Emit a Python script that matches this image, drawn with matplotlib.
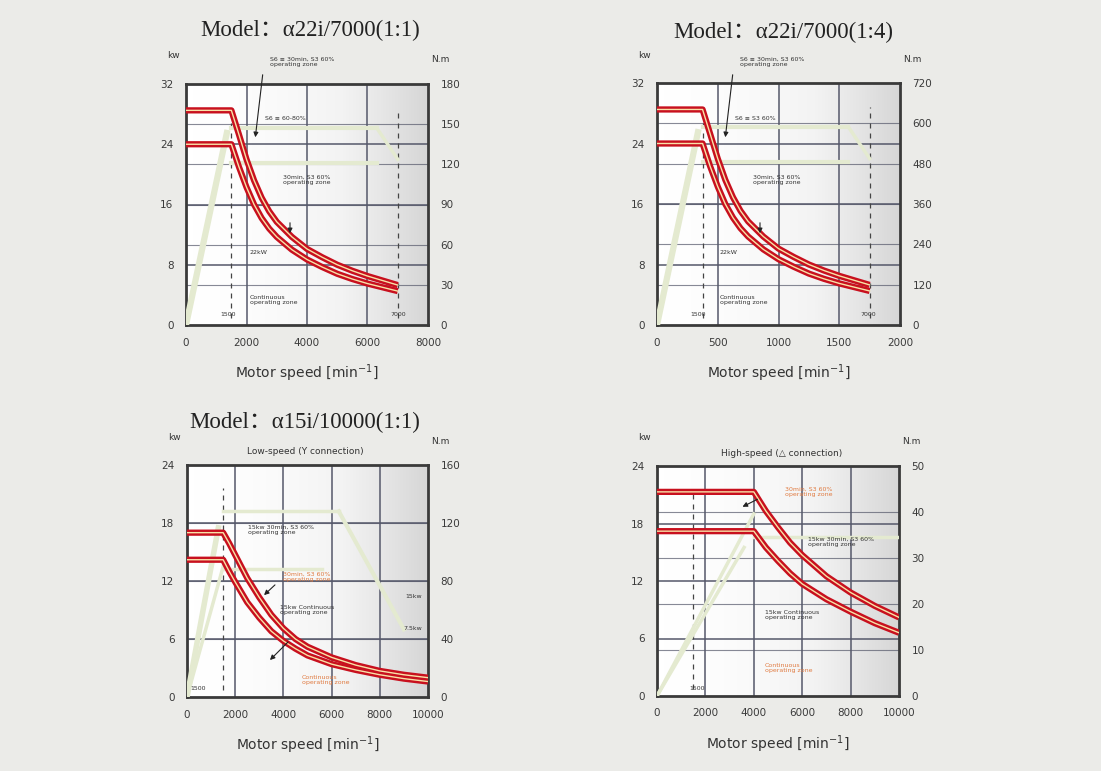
import numpy as np
import matplotlib
matplotlib.use("Agg")
from matplotlib import pyplot as plt
from matplotlib.colors import LinearSegmentedColormap

W, H = 1101, 771

# ---- data (speed in min^-1, output in kW) ----
# alpha22i/7000 (1:1)
m1_speed = [0, 1500, 1750, 2000, 2250, 2500, 2750, 3000, 3500, 4000, 4500, 5000, 5500, 6000, 6500, 7000]
m1_30min = [28.5, 28.5, 25.3, 22.0, 19.2, 16.9, 15.1, 13.7, 11.7, 10.1, 9.0, 8.0, 7.2, 6.5, 5.9, 5.3]
m1_cont = [24.0, 24.0, 21.0, 18.3, 16.0, 14.2, 12.8, 11.7, 10.0, 8.7, 7.7, 6.8, 6.1, 5.5, 5.0, 4.5]
# alpha22i/7000 (1:4) - spindle speed
m2_speed = [0, 375, 437, 500, 562, 625, 687, 750, 875, 1000, 1125, 1250, 1375, 1500, 1625, 1750]
m2_30min = [28.5, 28.5, 25.3, 22.0, 19.2, 16.9, 15.1, 13.7, 11.7, 10.1, 9.0, 8.0, 7.2, 6.5, 5.9, 5.3]
m2_cont = [24.0, 24.0, 21.0, 18.3, 16.0, 14.2, 12.8, 11.7, 10.0, 8.7, 7.7, 6.8, 6.1, 5.5, 5.0, 4.5]
# alpha15i/10000 low speed (Y)
m3_speed = [0, 1500, 1750, 2000, 2500, 3000, 3500, 4000, 4500, 5000, 6000, 7000, 8000, 9000, 10000]
m3_30min = [17.0, 17.0, 15.9, 14.7, 12.3, 10.3, 8.5, 7.1, 6.0, 5.2, 4.1, 3.3, 2.7, 2.3, 2.0]
m3_cont = [14.2, 14.2, 13.0, 11.9, 9.8, 8.2, 6.8, 5.8, 5.0, 4.3, 3.4, 2.8, 2.3, 1.9, 1.6]
# alpha15i/10000 high speed (delta)
m4_speed = [0, 4000, 4500, 5000, 5500, 6000, 7000, 8000, 9000, 10000]
m4_30min = [21.3, 21.3, 19.3, 17.6, 16.0, 14.7, 12.5, 10.8, 9.4, 8.2]
m4_cont = [17.2, 17.2, 15.5, 14.1, 12.8, 11.7, 10.1, 8.8, 7.6, 6.6]

panels = [
    dict(box=(186, 84, 428, 325), xmax=8000, xt=[0, 2000, 4000, 6000, 8000],
         kmax=32, kt=[0, 8, 16, 24, 32], nmax=180, nt=[0, 30, 60, 90, 120, 150, 180],
         vg=[2000, 4000, 6000], dash=[1500, 7000],
         sp=m1_speed, a=m1_30min, b=m1_cont),
    dict(box=(657, 83, 900, 325), xmax=2000, xt=[0, 500, 1000, 1500, 2000],
         kmax=32, kt=[0, 8, 16, 24, 32], nmax=720, nt=[0, 120, 240, 360, 480, 600, 720],
         vg=[500, 1000, 1500], dash=[375, 1750],
         sp=m2_speed, a=m2_30min, b=m2_cont),
    dict(box=(187, 465, 428, 697), xmax=10000, xt=[0, 2000, 4000, 6000, 8000, 10000],
         kmax=24, kt=[0, 6, 12, 18, 24], nmax=160, nt=[0, 40, 80, 120, 160],
         vg=[2000, 4000, 6000, 8000], dash=[1500],
         sp=m3_speed, a=m3_30min, b=m3_cont),
    dict(box=(657, 466, 899, 696), xmax=10000, xt=[0, 2000, 4000, 6000, 8000, 10000],
         kmax=24, kt=[0, 6, 12, 18, 24], nmax=50, nt=[0, 10, 20, 30, 40, 50],
         vg=[2000, 4000, 6000, 8000], dash=[1500],
         sp=m4_speed, a=m4_30min, b=m4_cont),
]

fig = plt.figure(figsize=(W / 100, H / 100), dpi=100)
fig.patch.set_facecolor("#ebebe8")

bg = LinearSegmentedColormap.from_list("bg", ["#ffffff", "#f3f3f3", "#d6d6d6"])
grid_c = "#55586a"
pale = "#e4ead0"


def fpx(x, y):
    return x / W, 1 - y / H


def label(x, y, s, size=5, color="#333333", ha="left", va="center", **kw):
    fig.text(*fpx(x, y), s, fontsize=size, color=color, ha=ha, va=va, **kw)


def arrow(x0, y0, x1, y1, color="#222222"):
    fig.add_artist(plt.Annotation("", xy=fpx(x1, y1), xytext=fpx(x0, y0),
                                  xycoords="figure fraction", textcoords="figure fraction",
                                  arrowprops=dict(arrowstyle="-|>", color=color, lw=0.8,
                                                  mutation_scale=7)))


axes = []
for p in panels:
    l, t, r, b = p["box"]
    ax = fig.add_axes([l / W, 1 - b / H, (r - l) / W, (b - t) / H])
    axes.append(ax)
    ax.set_xlim(0, p["xmax"])
    ax.set_ylim(0, p["kmax"])
    g = np.linspace(0, 1, 256) ** 1.6
    ax.imshow(np.vstack([g, g]), extent=[0, 1, 0, 1], transform=ax.transAxes,
              aspect="auto", cmap=bg, zorder=0)
    # grid from both scales
    for k in p["kt"][1:-1]:
        ax.axhline(k, color=grid_c, lw=1.1, zorder=1)
    for n in p["nt"][1:-1]:
        ax.axhline(n / p["nmax"] * p["kmax"], color=grid_c, lw=0.8, alpha=0.7, zorder=1)
    for v in p["vg"]:
        ax.axvline(v, color=grid_c, lw=1.1, zorder=1)
    for d in p["dash"]:
        ax.axvline(d, ymin=0.03, ymax=0.9, color="#444444", lw=0.9, ls=(0, (4, 4)), zorder=2)
    # rated output curves: red with pale core
    for ys in (p["a"], p["b"]):
        ax.plot(p["sp"], ys, color="#c8101e", lw=4.5, solid_joinstyle="round",
                solid_capstyle="butt", zorder=5)
        ax.plot(p["sp"], ys, color="#f8e2a8", lw=1.0, solid_joinstyle="round", zorder=6)
    ax.set_xticks(p["xt"])
    ax.set_yticks(p["kt"])
    ax.tick_params(length=0, labelsize=7.5, labelcolor="#3a3a3a", pad=9)
    for s in ax.spines.values():
        s.set_color("#3a3a3a")
        s.set_linewidth(2)
    ax2 = ax.twinx()
    ax2.set_ylim(0, p["nmax"])
    ax2.set_yticks(p["nt"])
    ax2.tick_params(length=0, labelsize=7.5, labelcolor="#3a3a3a", pad=9)
    for s in ax2.spines.values():
        s.set_visible(False)
    ax.set_xlabel("Motor speed [min$^{-1}$]", fontsize=10, color="#333333", labelpad=11)
    label(l - 13, t - 28, "kw", size=6.5, ha="center")
    label(r + 12, t - 24, "N.m", size=6.5, ha="center")

# pale S6 zone lines
ax1, ax2_, ax3, ax4 = axes
ax1.plot([0, 1350], [0, 25.5], color=pale, lw=4.5, zorder=3)
ax1.plot([1500, 6300], [26.2, 26.2], color=pale, lw=3, zorder=3)
ax1.plot([1500, 6300], [21.5, 21.5], color=pale, lw=3, zorder=3)
ax1.plot([6300, 7000], [26.2, 22.0], color=pale, lw=2.5, zorder=3)
ax2_.plot([0, 337], [0, 25.5], color=pale, lw=4.5, zorder=3)
ax2_.plot([375, 1575], [26.2, 26.2], color=pale, lw=3, zorder=3)
ax2_.plot([375, 1575], [21.5, 21.5], color=pale, lw=3, zorder=3)
ax2_.plot([1575, 1750], [26.2, 22.0], color=pale, lw=2.5, zorder=3)
ax3.plot([0, 1300], [0, 17.5], color=pale, lw=4, zorder=3)
ax3.plot([0, 1500], [0, 13.5], color=pale, lw=2.5, zorder=3)
ax3.plot([1500, 6300], [19.2, 19.2], color=pale, lw=2.5, zorder=3)
ax3.plot([1500, 5600], [13.2, 13.2], color=pale, lw=2.5, zorder=3)
ax3.plot([6300, 9000], [19.2, 7.0], color=pale, lw=3, zorder=3)
ax4.plot([0, 4000], [0, 19.0], color=pale, lw=2.5, zorder=3)
ax4.plot([0, 3600], [0, 15.5], color=pale, lw=2.5, zorder=3)
ax4.plot([4000, 10000], [16.6, 16.6], color=pale, lw=2.5, zorder=3)

# titles
tfam = ["Liberation Serif", "Noto Sans CJK SC", "DejaVu Serif"]
label(310, 30, "Model：α22i/7000(1:1)", size=16.5, color="#222222", ha="center", family=tfam)
label(783, 32, "Model：α22i/7000(1:4)", size=16.5, color="#222222", ha="center", family=tfam)
label(305, 422, "Model：α15i/10000(1:1)", size=16.5, color="#222222", ha="center", family=tfam)
label(305, 452, "Low-speed (Y connection)", size=6.5, ha="center")
label(782, 453, "High-speed (△ connection)", size=6.5, ha="center")

# panel annotations
for dx in (0, 470):
    label(270 + dx, 62, "S6 ≡ 30min, S3 60%\noperating zone", size=4.5)
    arrow(263 + dx, 72, 255 + dx, 140)
    label(265 + dx, 119, "S6 ≡ S3 60%" if dx else "S6 ≡ 60-80%", size=4.5)
    label(283 + dx, 180, "30min, S3 60%\noperating zone", size=4.5)
    arrow(290 + dx, 220, 290 + dx, 236)
    label(250 + dx, 252, "22kW", size=4.5)
    label(250 + dx, 300, "Continuous\noperating zone", size=4.5)
    label(228 + dx, 315, "1500", size=4.5, ha="center")
    label(398 + dx, 315, "7000", size=4.5, ha="center")

orange = "#e07a40"
label(248, 530, "15kw 30min, S3 60%\noperating zone", size=4.5)
label(283, 577, "30min, S3 60%\noperating zone", size=4.5, color=orange)
arrow(277, 583, 262, 597)
label(280, 610, "15kw Continuous\noperating zone", size=4.5)
arrow(290, 640, 268, 662)
label(302, 680, "Continuous\noperating zone", size=4.5, color=orange)
label(422, 597, "15kw", size=4.5, ha="right")
label(422, 628, "7.5kw", size=4.5, ha="right")
label(198, 688, "1500", size=4.5, ha="center")

label(785, 492, "30min, S3 60%\noperating zone", size=4.5, color=orange)
arrow(760, 498, 740, 508)
label(808, 542, "15kw 30min, S3 60%\noperating zone", size=4.5)
label(765, 615, "15kw Continuous\noperating zone", size=4.5)
label(765, 668, "Continuous\noperating zone", size=4.5, color=orange)
label(697, 688, "1500", size=4.5, ha="center")

fig.savefig("out.png", dpi=100, facecolor=fig.get_facecolor())
